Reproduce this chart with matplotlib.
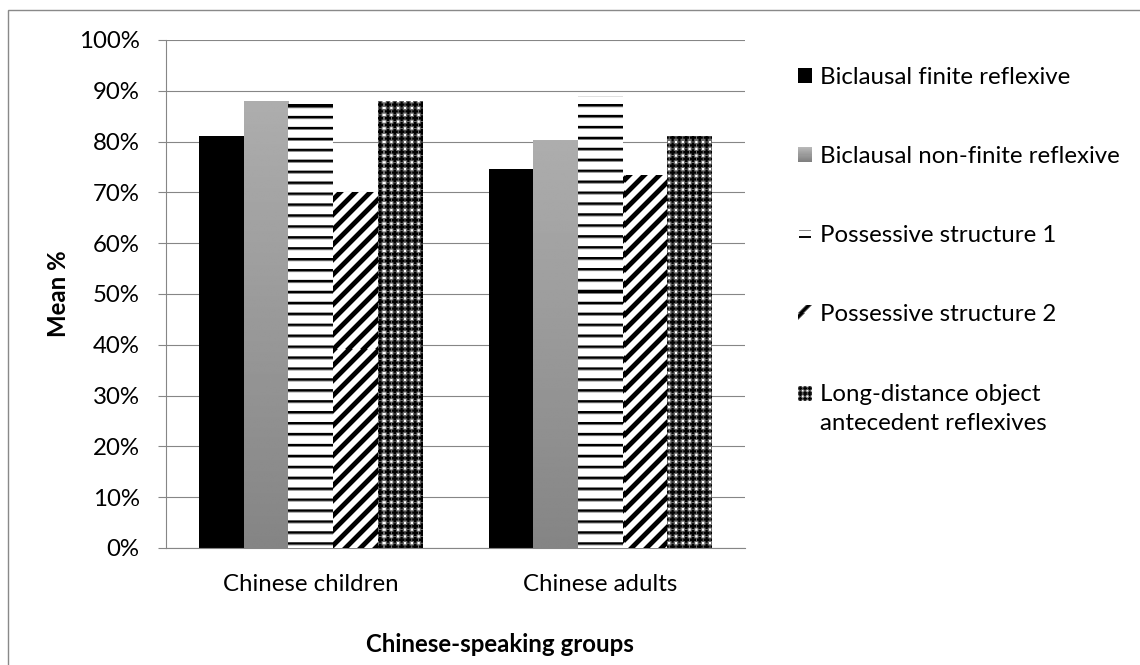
import numpy as np
import matplotlib
matplotlib.use("Agg")
import matplotlib.pyplot as plt
from matplotlib.patches import Rectangle
from matplotlib.legend_handler import HandlerBase
from matplotlib.image import BboxImage
from matplotlib.transforms import Bbox, TransformedBbox

plt.rcParams["font.family"] = ["Lato", "DejaVu Sans"]

# ---- data -------------------------------------------------------------
groups = ["Chinese children", "Chinese adults"]
series = [
    "Biclausal finite reflexive",
    "Biclausal non-finite reflexive",
    "Possessive structure 1",
    "Possessive structure 2",
    "Long-distance object\nantecedent reflexives",
]
children = [81.2, 88.0, 87.5, 70.1, 87.9]
adults = [74.6, 80.3, 89.0, 73.4, 81.2]
yticks = [0, 10, 20, 30, 40, 50, 60, 70, 80, 90, 100]
ytick_labels = [f"{v}%" for v in yticks]

W, H = 1140, 665
DPI = 100
FS = 17.3
PX = FS * DPI / 72          # font size in pixels
GRID = "#868686"

fig = plt.figure(figsize=(W / DPI, H / DPI), dpi=DPI)
ax_l, ax_r, ax_t, ax_b = 166, 745, 40, 548
ax = fig.add_axes([ax_l / W, (H - ax_b) / H, (ax_r - ax_l) / W, (ax_b - ax_t) / H])
AW, AH = ax_r - ax_l, ax_b - ax_t

# outer chart frame
fig.patches.append(Rectangle((8 / W, -0.5), 1.0, (H - 10) / H + 0.5,
                             transform=fig.transFigure, fill=False,
                             edgecolor="#898989", lw=1.0, zorder=0))


# ---- fill textures (pixel space of the plot area) ---------------------
def stripes_h(h, w, y0=105 - ax_t, period=10.93):
    sub = 8
    rows = (np.arange(h * sub) + 0.5) / sub
    ph = np.mod(rows - y0, period)
    val = np.where(ph < 2.2, 0.0, np.where(ph < 3.2, 0.5, 1.0))
    col = val.reshape(h, sub).mean(axis=1)
    return np.repeat(col[:, None], w, axis=1)


def stripes_d(h, w, period=15.0, x0=0.0):
    yy, xx = np.mgrid[0:h, 0:w]
    c = np.cos(2 * np.pi * (xx + yy + ax_l + ax_t - x0) / period)
    return np.clip(0.5 + 1.6 * (c + 0.15), 0, 1)


def crosses(h, w, period=6.8, arm=2.9, half=1.2, dot=1.1, gray=0.42, sub=4):
    yy, xx = np.mgrid[0:h * sub, 0:w * sub]
    u = np.mod((xx + 0.5) / sub, period) - period / 2
    v = np.mod((yy + 0.5) / sub, period) - period / 2
    au, av = np.abs(u), np.abs(v)
    val = np.full(u.shape, gray)
    corner = (au > period / 2 - dot) & (av > period / 2 - dot)
    val[corner] = 1.0
    plus = ((au < half) & (av < arm)) | ((av < half) & (au < arm))
    val[plus] = 0.0
    return val.reshape(h, sub, w, sub).mean(axis=(1, 3))


tex_h = stripes_h(AH, AW)
tex_d = stripes_d(AH, AW)
tex_c = crosses(AH, AW)

n = len(series)
bw = 1.0 / (n + 1.5)
x = np.arange(len(groups))
base_colors = ["#000000", "#9a9a9a", "#ffffff", "#ffffff", "#555555"]
fills = ["solid", "grad", "tex", "tex", "tex"]
textures = [None, None, tex_h, tex_d, tex_c]

xlim = (-0.5, len(groups) - 0.5)
ylim = (0, 100)

for i in range(n):
    vals = [children[i], adults[i]]
    bars = ax.bar(x + (i - (n - 1) / 2) * bw, vals, bw, color=base_colors[i],
                  edgecolor="none", zorder=2, label=series[i])
    for b in bars:
        if fills[i] == "solid":
            continue
        if fills[i] == "grad":
            g = np.linspace(0.68, 0.52, 200)[:, None]
            im = ax.imshow(g, extent=(b.get_x(), b.get_x() + b.get_width(), 0, b.get_height()),
                           cmap="gray", vmin=0, vmax=1, aspect="auto", zorder=3,
                           interpolation="bilinear")
        else:
            im = ax.imshow(textures[i], extent=(*xlim, *ylim), cmap="gray", vmin=0, vmax=1,
                           aspect="auto", zorder=3, interpolation="nearest")
        im.set_clip_path(b)

ax.set_xlim(*xlim)
ax.set_ylim(*ylim)
ax.set_yticks(yticks)
ax.set_yticklabels(ytick_labels)
ax.set_xticks(x)
ax.set_xticklabels(groups)
ax.yaxis.grid(True, color=GRID, lw=0.8, zorder=1)
ax.set_axisbelow(True)
for s in ["top", "right"]:
    ax.spines[s].set_visible(False)
for s in ["left", "bottom"]:
    ax.spines[s].set_color(GRID)
    ax.spines[s].set_linewidth(0.8)
ax.tick_params(axis="y", direction="out", length=6, width=0.8, color=GRID,
               pad=13, labelsize=FS, labelcolor="#000000")
ax.tick_params(axis="x", length=0, pad=19, labelsize=FS, labelcolor="#000000")

fig.text(59 / W, (H - 294) / H, "Mean %", rotation=90, ha="center", va="center",
         fontsize=FS, fontweight="bold")
fig.text(500 / W, (H - 652) / H, "Chinese-speaking groups", ha="center", va="baseline",
         fontsize=FS, fontweight="bold")


# ---- legend with textured swatches -----------------------------------
def swatch_solid(v):
    return np.full((14, 14), v)


def swatch_grad():
    return np.repeat(np.linspace(0.72, 0.5, 14)[:, None], 14, axis=1)


def swatch_lines():
    s = np.ones((14, 14))
    s[4, 1:13] = 0.55
    s[9:11, 1:13] = 0.05
    return s


def swatch_slash():
    yy, xx = np.mgrid[0:14, 0:14]
    d = xx + yy
    return np.clip(np.abs(d - 10.0) / 2.5 - 0.6, 0, 1)


def swatch_cross():
    return crosses(14, 14, period=4.7, arm=1.9, half=0.8, dot=0.8)


class SwatchHandler(HandlerBase):
    def __init__(self, tex, dy=0.0):
        super().__init__()
        self.tex = tex
        self.dy = dy

    def create_artists(self, legend, orig_handle, xdescent, ydescent, width, height,
                       fontsize, trans):
        bb = TransformedBbox(Bbox.from_bounds(-xdescent, -ydescent + self.dy, width, height),
                             trans)
        im = BboxImage(bb, cmap="gray", norm=matplotlib.colors.Normalize(0, 1),
                       interpolation="nearest")
        im.set_data(self.tex)
        return [im]


LS = 1.5
handles, labels = ax.get_legend_handles_labels()
swatches = [swatch_solid(0.0), swatch_grad(), swatch_lines(), swatch_slash(), swatch_cross()]
hmap = {}
for h, t, lab in zip(handles, swatches, labels):
    lines = lab.count("\n")
    hmap[h] = SwatchHandler(t, dy=lines * 15 * 72 / DPI)
leg = ax.legend(handles, labels, handler_map=hmap, loc="upper left",
                bbox_to_anchor=(798 / W, (H - 67) / H), bbox_transform=fig.transFigure,
                frameon=False, fontsize=FS, handlelength=14 / PX,
                handleheight=14 / PX, handletextpad=8 / PX,
                labelspacing=2.42, borderpad=0, borderaxespad=0)
for t in leg.get_texts():
    t.set_linespacing(LS)

fig.savefig("out.png", dpi=DPI)
